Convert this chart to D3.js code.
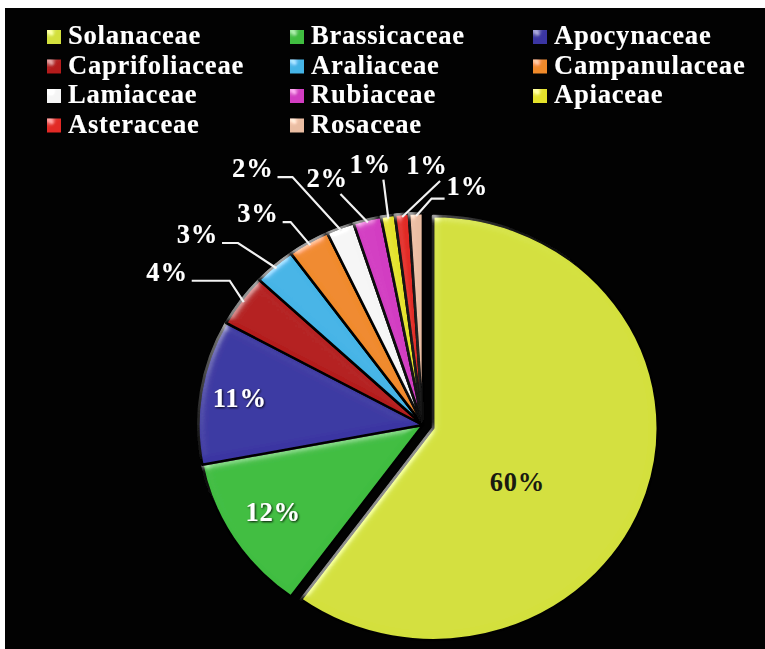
<!DOCTYPE html>
<html>
<head>
<meta charset="utf-8">
<script src="https://cdn.jsdelivr.net/npm/d3@7"></script>
<style>
  html, body { margin: 0; padding: 0; background: #fff; }
  svg { display: block; }
  text { font-family: "Liberation Serif", "Times New Roman", serif; font-weight: bold; }
</style>
</head>
<body>
<svg id="chart" width="765" height="649"></svg>
<script>
// Plant families and their share of species (%)
const categories = ["Solanaceae", "Brassicaceae", "Apocynaceae", "Caprifoliaceae", "Araliaceae",
  "Campanulaceae", "Lamiaceae", "Rubiaceae", "Apiaceae", "Asteraceae", "Rosaceae"];
const shares = [60, 12, 11, 4, 3, 3, 2, 2, 1, 1, 1];
const sliceColors = ["#d3e03c", "#3fbd40", "#3b36a2", "#b41d1d", "#45b4e6",
  "#f08a2c", "#f5f5f5", "#d23cc2", "#e4e22c", "#e22b25", "#eabda2"];

// Label placement around the pie: [angle in degrees clockwise from 12 o'clock, distance from centre]
const labelPolar = [[124, 96], [238.4, 166], [278.9, 175], [302.4, 286], [311.9, 286],
  [323.7, 263], [328, 303], [339.9, 263], [349.2, 266], [0.8, 260], [9.9, 243]];
// Horizontal run of each leader line before it bends towards its slice (0 = straight line)
const leaderRun = [0, 0, 0, 38, 16, 8, 15, 0, 0, 0, -13];

const svg = d3.select("#chart");
const W = 765, H = 649;
svg.append("rect").attr("width", W).attr("height", H).attr("fill", "#fff");
svg.append("rect").attr("x", 5).attr("y", 8).attr("width", W - 5).attr("height", H - 8).attr("fill", "#020202");

const defs = svg.append("defs");
// bevelled edges for slices and legend keys
const bevel = defs.append("filter").attr("id", "bevel").attr("x", "-10%").attr("y", "-10%").attr("width", "120%").attr("height", "120%");
bevel.append("feGaussianBlur").attr("in", "SourceAlpha").attr("stdDeviation", 4).attr("result", "blur");
const spec = bevel.append("feSpecularLighting").attr("in", "blur").attr("surfaceScale", 3)
  .attr("specularConstant", 0.8).attr("specularExponent", 35).attr("lighting-color", "#ffffff").attr("result", "spec");
spec.append("feDistantLight").attr("azimuth", 235).attr("elevation", 35);
bevel.append("feComposite").attr("in", "spec").attr("in2", "SourceAlpha").attr("operator", "in").attr("result", "specOut");
bevel.append("feComposite").attr("in", "SourceGraphic").attr("in2", "specOut").attr("operator", "arithmetic")
  .attr("k1", 0).attr("k2", 1).attr("k3", 0.45).attr("k4", 0);

const textShadow = defs.append("filter").attr("id", "tshadow").attr("x", "-20%").attr("y", "-20%").attr("width", "140%").attr("height", "140%");
textShadow.append("feDropShadow").attr("dx", 1).attr("dy", 1).attr("stdDeviation", 0.8).attr("flood-color", "#000").attr("flood-opacity", 0.9);

// ---- Legend ----
const legendCols = 3;
const legendX = d3.scaleOrdinal().domain([0, 1, 2]).range([47, 290, 533]);
const legendY = d3.scaleLinear().domain([0, 1]).range([30, 59.5]);
const legend = svg.append("g");
categories.forEach((name, i) => {
  const col = i % legendCols, row = Math.floor(i / legendCols);
  const g = legend.append("g").attr("transform", `translate(${legendX(col)},${legendY(row)})`);
  g.append("rect").attr("width", 14).attr("height", 14).attr("fill", sliceColors[i]).attr("filter", "url(#bevel)");
  g.append("text").attr("x", 21).attr("y", 14).attr("fill", "#fff").attr("font-size", 26.5)
    .attr("letter-spacing", 0.8).attr("filter", "url(#tshadow)").text(name);
});

// ---- Pie ----
const cx = 423, cy = 425, R = 212, sx = 1.06, explode = 10;
const pie = d3.pie().sort(null).value(d => d)(shares);
const arc = d3.arc().innerRadius(0).outerRadius(R);
const pt = (deg, r) => {
  const a = deg * Math.PI / 180;
  return [cx + sx * r * Math.sin(a), cy - r * Math.cos(a)];
};

const pieG = svg.append("g").attr("transform", `translate(${cx},${cy}) scale(${sx},1)`);
pieG.selectAll("path").data(pie).join("path")
  .attr("d", arc)
  .attr("transform", (d, i) => {
    if (i !== 0) return null;
    const m = (d.startAngle + d.endAngle) / 2;
    return `translate(${explode * Math.sin(m)},${-explode * Math.cos(m)})`;
  })
  .attr("fill", (d, i) => sliceColors[i])
  .attr("stroke", "#020202").attr("stroke-width", 2.5).attr("stroke-linejoin", "round")
  .attr("filter", "url(#bevel)");

// ---- Percentage labels and leader lines ----
const labelG = svg.append("g");
pie.forEach((d, i) => {
  const [lp, lr] = labelPolar[i];
  let [lx, ly] = pt(lp, lr);
  if (i === 0) {
    const m = (d.startAngle + d.endAngle) / 2;
    lx += explode * sx * Math.sin(m); ly -= explode * Math.cos(m);
  }
  const inside = lr < R;
  const t = labelG.append("text").attr("x", lx).attr("y", ly + 9).attr("text-anchor", "middle")
    .attr("font-size", 26.5).attr("letter-spacing", 0.8)
    .attr("fill", i === 0 ? "#1a1a10" : "#fff")
    .attr("filter", i === 0 ? null : "url(#tshadow)")
    .text(shares[i] + "%");
  if (inside) return;
  const bb = t.node().getBBox();
  const mid = (d.startAngle + d.endAngle) / 2 * 180 / Math.PI;
  const end = pt(mid, R - 3);
  const run = leaderRun[i];
  let start;
  if (run > 0) start = [bb.x + bb.width + 4, bb.y + bb.height - 6];
  else if (run < 0) start = [bb.x - 2, bb.y + bb.height - 2];
  else start = [lx + bb.width * 0.32, bb.y + bb.height + 1];
  const elbow = [start[0] + run, start[1]];
  labelG.append("path")
    .attr("d", d3.line()([start, elbow, end]))
    .attr("fill", "none").attr("stroke", "#f2f2f2").attr("stroke-width", 2.2);
});
</script>
</body>
</html>
